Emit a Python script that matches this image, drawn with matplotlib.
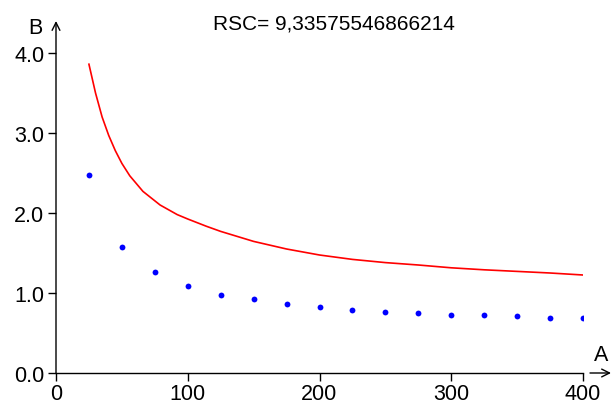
import matplotlib
matplotlib.use("Agg")
import matplotlib.pyplot as plt

plt.rcParams['font.family'] = ['Liberation Sans', 'DejaVu Sans']

# Data
pts_x = [25, 50, 75, 100, 125, 150, 175, 200, 225, 250, 275, 300, 325, 350, 375, 400]
pts_y = [2.48, 1.58, 1.26, 1.09, 0.975, 0.92, 0.86, 0.825, 0.79, 0.765, 0.746, 0.729, 0.729, 0.71, 0.69, 0.69]

curve_x = [25, 30, 35, 40, 45, 50, 56, 66, 79, 92, 100, 114, 125, 150, 175, 200, 225,
           250, 275, 300, 325, 350, 375, 400]
curve_y = [3.86, 3.50, 3.20, 2.97, 2.78, 2.62, 2.465, 2.27, 2.10, 1.98, 1.925, 1.835, 1.77,
           1.645, 1.55, 1.475, 1.42, 1.38, 1.35, 1.315, 1.29, 1.27, 1.25, 1.225]

xticks = [0, 100, 200, 300, 400]
yticks = [0.0, 1.0, 2.0, 3.0, 4.0]
title = "RSC= 9,33575546866214"

W, H = 612, 406
fig = plt.figure(figsize=(W / 100, H / 100), dpi=100)
x0, x1 = 56, 583
y0, y1 = 374, 54
ax = fig.add_axes([x0 / W, (H - y0) / H, (x1 - x0) / W, (y0 - y1) / H])

ax.plot(curve_x, curve_y, color='#ff0000', lw=1.2, solid_joinstyle='round')
ax.plot(pts_x, pts_y, 'o', color='#0000ff', ms=4.2, mew=0)

ax.set_xlim(0, 400)
ax.set_ylim(0, 4)
ax.set_xticks(xticks)
ax.set_xticklabels([str(v) for v in xticks])
ax.set_yticks(yticks)
ax.set_yticklabels([f"{v:.1f}" for v in yticks])
for s in ['top', 'right', 'left']:
    ax.spines[s].set_visible(False)
ax.spines['bottom'].set_linewidth(1.0)
ax.tick_params(direction='out', length=6, width=1.0, labelsize=15.5, colors='black')
ax.tick_params(axis='x', pad=1.5)
ax.tick_params(axis='y', pad=2.5)

# y axis with arrow
ax.annotate('', xy=(0, (y0 - 22) / (y0 - y1)), xytext=(0, 0), xycoords='axes fraction',
            arrowprops=dict(arrowstyle='->', lw=1.0, color='black', shrinkA=0, shrinkB=0,
                            mutation_scale=14), annotation_clip=False)
# x axis arrow
ax.annotate('', xy=((611 - x0) / (x1 - x0), 0), xytext=((590 - x0) / (x1 - x0), 0),
            xycoords='axes fraction',
            arrowprops=dict(arrowstyle='->', lw=1.0, color='black', shrinkA=0, shrinkB=0,
                            mutation_scale=14), annotation_clip=False)

fig.text(35 / W, 1 - 28 / H, 'B', fontsize=15.5, ha='center', va='center')
fig.text(601 / W, 1 - 356 / H, 'A', fontsize=15.5, ha='center', va='center')
fig.text(334 / W, 1 - 24 / H, title, fontsize=15, ha='center', va='center')

fig.savefig('out.png', dpi=100)
